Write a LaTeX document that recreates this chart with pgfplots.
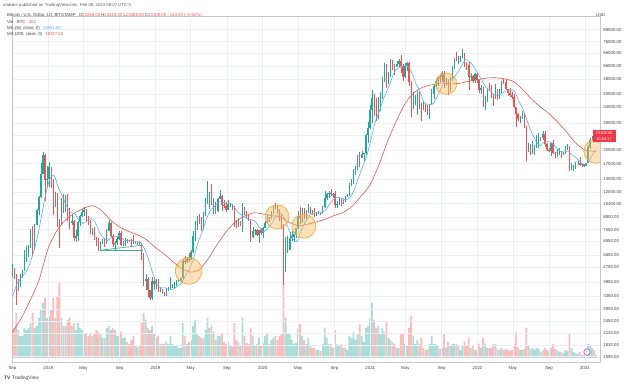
\documentclass[border=0pt]{standalone}
\usepackage{pgfplots}
\usepackage{pgfplotstable}
\pgfplotsset{compat=1.18}
\usepackage{fontspec}
\setmainfont{Liberation Sans}
\definecolor{up}{RGB}{38,166,154}
\definecolor{dn}{RGB}{239,83,80}
\definecolor{maf}{RGB}{90,175,240}
\definecolor{mas}{RGB}{218,88,78}
\definecolor{gridc}{RGB}{236,239,245}
\definecolor{txt}{RGB}{60,63,70}
\definecolor{boxred}{RGB}{242,54,69}
\definecolor{circf}{RGB}{250,190,100}
\definecolor{circd}{RGB}{245,170,70}
\definecolor{tl}{RGB}{60,180,140}
\definecolor{purp}{RGB}{170,70,200}

\pgfplotstableread{
x o h l c v
-123 4340 4980 4250 4580 25
-116 4580 4700 4100 4330 30
-109 4330 4400 2980 3700 45
-102 3700 4120 3570 3780 28
-95 3780 4380 3750 4380 22
-88 4380 4620 4150 4610 22
-81 4610 5860 4550 5690 30
-74 5690 6190 5100 5990 28
-67 5990 6290 5400 6140 30
-60 6140 7600 6050 7370 35
-53 7370 7890 5500 5900 45
-46 5900 8100 5850 8000 30
-39 8000 9700 7980 9600 32
-32 9600 11400 9000 11300 40
-25 11300 17200 11200 15000 48
-18 15000 19700 15000 19000 55
-11 19000 19200 10800 13900 60
-4 13900 16500 12600 14000 40
3 14000 17250 12800 16200 42
10 16200 16300 12600 13600 48
17 13600 14000 9000 11600 60
24 11600 12000 10000 11700 40
31 11700 11900 7800 8200 62
38 8200 8600 6000 8100 75
45 8100 11200 8000 10400 40
52 10400 11700 9300 9600 32
59 9600 11500 9400 11400 32
66 11400 11700 8400 9500 38
73 9500 9900 7600 8200 40
80 8200 9200 8000 8450 32
87 8450 8500 6600 6800 35
94 6800 7500 6500 7000 28
101 7000 8400 6600 8300 35
108 8300 9000 7900 8900 30
115 8900 9750 8800 9400 28
122 9400 9950 8900 9650 25
129 9650 9700 8300 8700 25
136 8700 8900 8000 8400 22
143 8400 8500 7200 7350 25
150 7350 7750 7100 7700 22
157 7700 7770 6700 6750 24
164 6750 6900 6200 6450 28
171 6450 6850 5800 6150 26
178 6150 6500 5800 6400 24
185 6400 6750 6300 6750 20
192 6750 6800 6100 6350 20
199 6350 7600 6300 7400 30
206 7400 8500 7400 8200 32
213 8200 8250 6900 7000 28
220 7000 7150 6100 6300 30
227 6300 6600 5900 6400 28
234 6400 6900 6250 6700 22
241 6700 7400 6650 7250 22
248 7250 7400 6200 6250 26
255 6250 6600 6150 6500 20
262 6500 6850 6150 6700 20
269 6700 6750 6400 6600 16
276 6600 6650 6500 6550 14
283 6550 6700 6200 6450 18
290 6450 7100 6300 6400 22
297 6400 6500 6350 6400 12
304 6400 6500 6250 6400 11
311 6400 6550 6300 6350 12
318 6350 6400 5200 5600 35
325 5600 5650 3800 4000 45
332 4000 4400 3600 4100 38
339 4100 4200 3300 3600 30
346 3600 3600 3200 3250 28
353 3250 4250 3200 4000 32
360 4000 4250 3600 3900 24
367 3900 4100 3650 4000 20
374 4000 4100 3500 3550 22
381 3550 3750 3500 3550 14
388 3550 3650 3450 3500 14
395 3500 3520 3350 3420 14
402 3420 3700 3350 3650 16
409 3650 3750 3550 3670 14
416 3670 4200 3650 3850 22
423 3850 3900 3700 3850 14
430 3850 3950 3700 3950 12
437 3950 4050 3800 4000 12
444 4000 4100 3950 4000 10
451 4000 4150 3950 4150 10
458 4150 5300 4100 5150 35
465 5150 5450 4950 5100 22
472 5100 5400 5000 5300 14
479 5300 5650 5050 5250 16
486 5250 5900 5200 5750 18
493 5750 7400 5650 7000 32
500 7000 8350 6600 8200 38
507 8200 8950 7500 8750 25
514 8750 9100 8100 8700 22
521 8700 8800 7450 7650 20
528 7650 9350 7550 8950 20
535 8950 11200 8950 10800 28
542 10800 13800 10400 10800 40
549 10800 12000 9700 11300 30
556 11300 13200 10200 10200 32
563 10200 11100 9100 10500 26
570 10500 10600 9200 9500 18
577 9500 11100 9400 11000 22
584 11000 12300 11000 11400 22
591 11400 11500 9500 10200 25
598 10200 10900 9800 10150 16
605 10150 10600 9350 9600 14
612 9600 10900 9600 10300 16
619 10300 10450 9950 10300 12
626 10300 10350 9600 10000 11
633 10000 10050 7800 8100 35
640 8100 8500 7750 7900 18
647 7900 8700 7800 8300 16
654 8300 8400 7900 8200 13
661 8200 10500 7300 9550 40
668 9550 9950 9000 9300 22
675 9300 9500 8700 9050 15
682 9050 9100 8400 8500 14
689 8500 8500 6500 6900 30
696 6900 7800 6850 7400 22
703 7400 7600 7100 7500 12
710 7500 7650 6950 7050 14
717 7050 7500 6450 7500 20
724 7500 7700 7100 7250 12
731 7250 7800 6850 7750 15
738 7750 8450 7700 8200 22
745 8200 9200 8100 8700 24
752 8700 8800 8250 8600 14
759 8600 9550 8600 9350 18
766 9350 10150 9150 10150 20
773 10150 10500 9700 9900 22
780 9900 10250 9300 9650 18
787 9650 9700 8400 8550 22
794 8550 9200 7650 8050 24
801 8050 8100 3850 5350 75
808 5350 6900 4500 5850 40
815 5850 6950 5650 5900 24
822 5900 7300 5850 6800 24
829 6800 7450 6600 6900 18
836 6900 7300 6500 7150 14
843 7150 7750 6800 7700 15
850 7700 9450 7650 8900 30
857 8900 10000 8100 8750 34
864 8750 9900 8200 9650 22
871 9650 9850 8650 8850 18
878 8850 9600 8650 9450 14
885 9450 10400 9300 9750 20
892 9750 10000 9050 9350 12
899 9350 9600 9000 9300 10
906 9300 9800 8850 9150 10
913 9150 9350 8950 9300 8
920 9300 9450 9150 9300 8
927 9300 9400 9050 9200 7
934 9200 10100 9150 9950 14
941 9950 12100 9900 11100 30
948 11100 11900 10900 11700 20
955 11700 12100 11150 11850 14
962 11850 12450 11400 11650 14
969 11650 11800 11100 11700 10
976 11700 12100 9900 10250 28
983 10250 10800 9850 10300 14
990 10300 11100 10250 11100 12
997 11100 11200 10150 10750 14
1004 10750 10950 10400 10650 10
1011 10650 11450 10550 11400 10
1018 11400 11700 11250 11500 8
1025 11500 13350 11400 13050 22
1032 13050 14100 12900 13750 20
1039 13750 15950 13300 15500 26
1046 15500 16500 14850 16050 18
1053 16050 18800 15800 18700 24
1060 18700 19500 16200 18200 34
1067 18200 19900 18100 19100 22
1074 19100 19400 17600 19250 16
1081 19250 24300 19000 24000 30
1088 24000 28400 21850 26450 32
1095 26450 34800 26100 32800 40
1102 32800 41950 28100 38200 55
1109 38200 40100 30400 36000 38
1116 36000 37800 28800 32100 30
1123 32100 38500 29200 34300 32
1130 34300 41000 32300 38900 24
1137 38900 49000 37500 48700 30
1144 48700 58300 46500 57400 26
1151 57400 57500 43000 45150 36
1158 45150 52600 45000 50900 20
1165 50900 61700 49200 59200 18
1172 59200 60500 53300 57300 16
1179 57300 57900 50400 55900 14
1186 55900 60000 55400 58000 10
1193 58000 61200 55500 60000 10
1200 60000 64800 51500 56200 24
1207 56200 57500 47000 49000 24
1214 49000 58400 48800 56600 14
1221 56600 59500 52900 58200 12
1228 58200 59500 43800 46400 30
1235 46400 46700 30000 34700 42
1242 34700 40900 33300 35600 22
1249 35600 39500 34800 35800 14
1256 35800 41300 31000 39000 18
1263 39000 41000 33400 35500 14
1270 35500 35700 28800 34700 20
1277 34700 36600 32700 35300 10
1284 35300 35500 32200 34200 8
1291 34200 34700 31000 31800 9
1298 31800 35400 29300 35400 14
1305 35400 42600 35300 39900 22
1312 39900 44700 37500 43800 14
1319 43800 48100 43600 47100 14
1326 47100 49400 43900 49300 12
1333 49300 50500 46400 48900 9
1340 48900 52900 46500 51700 10
1347 51700 52900 42800 46000 24
1354 46000 48800 44000 47300 10
1361 47300 47500 39600 42800 16
1368 42800 49200 40800 48200 12
1375 48200 56500 46900 54700 14
1382 54700 62000 54400 61500 14
1389 61500 67000 59600 61300 14
1396 61300 63700 58000 61300 12
1403 61300 63500 59400 63300 8
1410 63300 69000 62300 65500 12
1417 65500 66300 55600 58700 16
1424 58700 59500 53500 57200 12
1431 57200 59200 42000 49400 20
1438 49400 51900 46800 50000 10
1445 50000 50400 45500 46800 12
1452 46800 51900 45600 50800 8
1459 50800 52000 45700 47300 8
1466 47300 47500 40500 41800 14
1473 41800 44400 39700 43100 10
1480 43100 43500 34000 35000 20
1487 35000 38900 32900 38200 14
1494 38200 42600 36300 42400 10
1501 42400 45800 41600 42100 10
1508 42100 44800 38000 38400 10
1515 38400 40000 34300 37700 14
1522 37700 45400 37500 38500 14
1529 38500 42600 37200 37800 9
1536 37800 42300 37600 41300 8
1543 41300 46900 40500 46800 10
1550 46800 48200 45200 46400 8
1557 46400 47200 42000 42200 9
1564 42200 42400 39200 40400 8
1571 40400 42900 38600 39500 7
1578 39500 40800 37600 38500 8
1585 38500 40000 33700 34100 14
1592 34100 34200 26700 31300 26
1599 31300 31500 28700 29400 10
1606 29400 30600 28000 29400 8
1613 29400 32300 29300 29900 8
1620 29900 31500 26500 26600 9
1627 26600 26800 17600 20500 30
1634 20500 21800 19700 21000 12
1641 21000 21500 18800 19300 9
1648 19300 22500 19100 20800 10
1655 20800 21300 18900 20800 8
1662 20800 24200 20700 22600 10
1669 22600 24600 20700 23300 9
1676 23300 23600 22400 23200 6
1683 23200 25200 22700 24300 8
1690 24300 25200 20800 21500 10
1697 21500 21900 19800 20000 8
1704 20000 20600 19600 19800 7
1711 19800 21800 18600 21800 10
1718 21800 22800 19300 19400 14
1725 19400 19700 18200 18900 9
1732 18900 20300 18500 19050 8
1739 19050 20500 19000 19400 6
1746 19400 19800 18200 19250 6
1753 19250 19700 18900 19550 5
1760 19550 21100 19200 20650 8
1767 20650 21500 20050 20900 7
1774 20900 21000 15600 16300 24
1781 16300 17200 15800 16300 10
1788 16300 16800 15500 16450 6
1795 16450 17400 16000 17100 5
1802 17100 17450 16750 17100 4
1809 17100 18400 16600 16750 6
1816 16750 17000 16350 16850 3
1823 16850 16950 16350 16600 3
1830 16600 17200 16550 17100 5
1837 17100 21400 17100 20800 14
1844 20800 23400 20400 22700 12
1851 22700 23900 22300 23750 10
1858 23750 24250 22550 22950 8
1864 22950 23450 22700 23108 3
}\candles

\pgfplotstableread{
x m
-120 3350
-106 3900
-92 4174
-78 4439
-64 4899
-50 5726
-36 6956
-22 9044
-8 11814
6 14143
20 14757
34 12743
48 11400
62 10143
76 9343
90 9193
104 8521
118 8150
132 8393
146 8671
160 8279
174 7357
188 6793
202 6607
216 6893
230 6914
244 7036
258 6629
272 6629
286 6614
300 6514
314 6450
328 5943
342 5207
356 4414
370 3836
384 3693
398 3703
412 3620
426 3641
440 3770
454 3924
468 4314
482 4707
496 5386
510 6479
524 7329
538 8579
552 9564
566 10029
580 10586
594 10586
608 10336
622 10421
636 9807
650 9214
664 8907
678 8629
692 8543
706 8314
720 7700
734 7336
748 7707
762 8193
776 8950
790 9271
804 8714
818 7607
832 6771
846 6521
860 7443
874 8236
888 8986
902 9279
916 9286
930 9336
944 9614
958 10343
972 11021
986 11221
1000 11086
1014 10879
1028 11250
1042 12371
1056 14279
1070 16336
1084 18686
1098 22643
1112 27971
1126 31979
1140 37286
1154 41793
1168 47793
1182 53507
1196 55207
1210 56514
1224 56271
1238 51586
1252 45186
1266 40743
1280 35800
1294 35186
1308 35257
1322 38214
1336 42314
1350 46671
1364 47586
1378 48514
1392 51686
1406 56157
1420 60900
1434 59529
1448 55843
1462 51457
1476 47029
1490 43286
1504 41414
1518 39557
1532 39300
1546 40371
1560 41529
1574 42057
1588 41129
1602 36486
1616 33157
1630 28743
1644 25157
1658 22700
1672 21186
1686 22043
1700 22243
1714 21986
1728 20814
1742 19771
1756 19629
1770 19679
1784 18914
1798 18179
1812 17271
1826 16736
1840 17471
1854 19221
1864 19952
}\mafifty

\pgfplotstableread{
x m
-122 2150
-92 2539
-61 3182
-31 4077
0 6024
31 7530
59 8506
90 9273
120 9794
151 10142
181 9576
212 8515
243 7818
273 7409
304 7091
334 6682
365 6064
396 5583
424 5102
455 4691
485 4485
516 4652
546 5336
577 6370
608 7435
638 8344
669 8927
699 9291
730 9171
761 8962
790 8844
821 8262
851 7929
882 8074
912 8311
943 8582
974 8997
1004 9333
1035 10106
1065 11406
1096 13167
1127 16955
1155 22352
1186 28897
1216 35845
1247 40894
1277 43545
1308 44758
1339 45758
1369 45227
1400 45530
1430 46667
1461 47648
1492 48521
1520 48761
1551 48112
1581 46742
1612 42667
1642 37909
1673 34227
1704 31455
1734 28258
1765 24939
1795 21891
1826 20091
1864 19727
}\matwo

\begin{document}
\begin{tikzpicture}[x=1pt,y=1pt]
\useasboundingbox (0,0) rectangle (624,383);
\fill[white] (0,0) rectangle (624,383);

% volume pane
\begin{axis}[at={(4,25)}, anchor=south west, scale only axis,
  width=588pt, height=346pt, xmin=-124, xmax=1877, ymin=0, ymax=346,
  hide axis]
  \addplot[ybar, bar width=1.8pt, bar shift=0pt, fill=up, fill opacity=0.38, draw=none,
    restrict expr to domain={\thisrow{c}-\thisrow{o}}{0:1000000}]
    table[x=x, y=v] {\candles};
  \addplot[ybar, bar width=1.8pt, bar shift=0pt, fill=dn, fill opacity=0.38, draw=none,
    restrict expr to domain={\thisrow{c}-\thisrow{o}}{-1000000:-0.5}]
    table[x=x, y=v] {\candles};
\end{axis}

% price pane: the vertical axis is the natural logarithm of the price (log scale)
\begin{axis}[at={(4,25)}, anchor=south west, scale only axis,
  width=588pt, height=346pt, xmin=-124, xmax=1877,
  ymin=7.2977, ymax=11.5444,
  axis line style={draw=black!22, line width=0.5pt},
  grid=major, major grid style={draw=gridc, line width=0.5pt},
  major tick length=0pt, tick style={draw=none},
  xtick={-122,0,120,243,365,485,608,730,851,974,1096,1216,1339,1461,1581,1704,1826},
  xticklabels={Sep,2018,May,Sep,2019,May,Sep,2020,May,Sep,2021,May,Sep,2022,May,Sep,2023},
  ytick={7.3715,7.5121,7.6639,7.8038,7.9551,8.1168,8.2816,8.4659,8.6216,8.7872,8.9293,9.0825,9.2495,9.3927,9.5468,9.7410,9.9035,10.0858,10.2400,10.4341,10.5966,10.7790,10.9331,11.0974,11.2385,11.3851},
  yticklabels={1590.00,1830.00,2130.00,2450.00,2850.00,3350.00,3950.00,4750.00,5550.00,6550.00,7550.00,8800.00,10400.00,12000.00,14000.00,17000.00,20000.00,,28000.00,34000.00,40000.00,48000.00,56000.00,66000.00,76000.00,88000.00},
  yticklabel pos=right,
  ticklabel style={font=\fontsize{4.3}{5}\selectfont, text=txt},
  xticklabel style={anchor=north, inner sep=0pt, yshift=-4pt},
  yticklabel style={anchor=west, inner sep=0pt, xshift=3.5pt},
  candle/.style={draw=none, mark=none, no markers, forget plot}]

  % wicks
  \addplot[candle,
    restrict expr to domain={\thisrow{c}-\thisrow{o}}{0:1000000},
    error bars/.cd, y dir=both, y explicit, error mark=none,
    error bar style={draw=up, line width=0.4pt}]
    table[x=x, y expr=ln(\thisrow{c}),
      y error plus expr=ln(\thisrow{h})-ln(\thisrow{c}),
      y error minus expr=ln(\thisrow{c})-ln(\thisrow{l})] {\candles};
  \addplot[candle,
    restrict expr to domain={\thisrow{c}-\thisrow{o}}{-1000000:-0.5},
    error bars/.cd, y dir=both, y explicit, error mark=none,
    error bar style={draw=dn, line width=0.4pt}]
    table[x=x, y expr=ln(\thisrow{c}),
      y error plus expr=ln(\thisrow{h})-ln(\thisrow{c}),
      y error minus expr=ln(\thisrow{c})-ln(\thisrow{l})] {\candles};
  % bodies
  \addplot[candle,
    restrict expr to domain={\thisrow{c}-\thisrow{o}}{0:1000000},
    error bars/.cd, y dir=plus, y explicit, error mark=none,
    error bar style={draw=up, line width=1.15pt}]
    table[x=x, y expr=ln(\thisrow{o}),
      y error plus expr=ln(\thisrow{c})-ln(\thisrow{o})] {\candles};
  \addplot[candle,
    restrict expr to domain={\thisrow{c}-\thisrow{o}}{-1000000:-0.5},
    error bars/.cd, y dir=plus, y explicit, error mark=none,
    error bar style={draw=dn, line width=1.15pt}]
    table[x=x, y expr=ln(\thisrow{c}),
      y error plus expr=ln(\thisrow{o})-ln(\thisrow{c})] {\candles};

  % moving averages
  \addplot[mas, line width=0.6pt, smooth, tension=0.4, mark=none] table[x=x, y expr=ln(\thisrow{m})] {\matwo};
  \addplot[maf, line width=0.6pt, smooth, tension=0.4, mark=none] table[x=x, y expr=ln(\thisrow{m})] {\mafifty};

  % drawn trend lines
  \draw[tl, line width=0.7pt] (axis cs:177,8.6762) -- (axis cs:323,8.6762);
  \draw[tl, line width=0.7pt] (axis cs:177,8.6762) -- (axis cs:316,8.7378);

  % highlight circles
  \begin{scope}[fill=circf, fill opacity=0.45, draw=circd, line width=0.7pt]
  \filldraw (axis cs:478,8.4229) circle[radius=13.3pt];
  \filldraw (axis cs:779,9.0865) circle[radius=12pt];
  \filldraw (axis cs:870,8.9709) circle[radius=12pt];
  \filldraw (axis cs:1354,10.7211) circle[radius=10.7pt];
  \filldraw (axis cs:1864,9.8914) circle[radius=12pt];
  \end{scope}
\end{axis}

% texts and decorations
\begin{scope}[every node/.style={inner sep=0pt, anchor=west, font=\fontsize{4.3}{5}\selectfont}]
\node[text=txt!85] at (3,378) {alakakir published on TradingView.com, Feb 08, 2023 08:07 UTC-5};
\node[text=txt] at (7,367.6) {Bitcoin / U.S. Dollar, 1D, BITSTAMP\hspace{2pt} O{\color{dn}23246.00} H{\color{dn}23419.00} L{\color{dn}23089.00} C{\color{dn}23108.00} {\color{dn}−144.00 (−0.62\%)}};
\node[text=txt] at (7,361.3) {Vol · BTC\hspace{2pt} {\color{dn}452}};
\node[text=txt] at (7,354.7) {MA (50, close, 0)\hspace{2pt} {\color{maf}19951.90}};
\node[text=txt] at (7,348.7) {MA (200, close, 0)\hspace{2pt} {\color{mas}19727.02}};
\node[text=txt] at (596,368) {USD};
\node[text=txt, font=\fontsize{4.9}{6}\selectfont] at (4,5) {\textbf{TV}\hspace{1.5pt}TradingView};
\end{scope}
\fill[boxred] (592.5,241) rectangle (615.5,252.5);
\node[text=white, inner sep=0pt, font=\fontsize{4}{5}\selectfont] at (604,249.6) {23108.00};
\node[text=white, inner sep=0pt, font=\fontsize{4}{5}\selectfont] at (604,244.2) {10:52:17};
\draw[purp, fill=white, line width=0.6pt] (587,31) circle (3.2);
\node[purp, inner sep=0pt, font=\fontsize{3.5}{4}\selectfont\bfseries] at (587,31) {!};
\end{tikzpicture}
\end{document}
